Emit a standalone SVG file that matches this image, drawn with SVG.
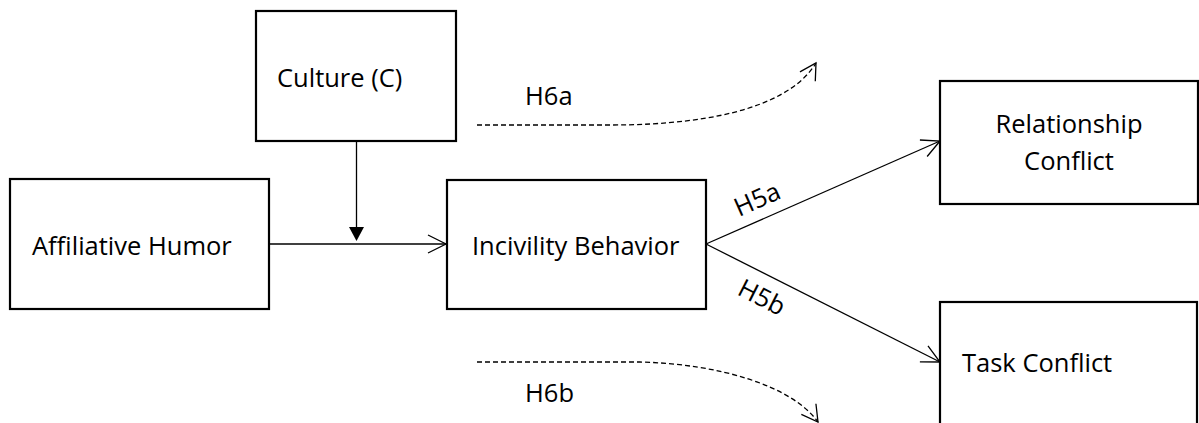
<svg xmlns="http://www.w3.org/2000/svg" width="1199" height="423" viewBox="0 0 1199 423">
<style>
.box{fill:#fff;stroke:#000;stroke-width:2.2}
.t{font-family:"Open Sans","Noto Sans","DejaVu Sans",sans-serif;font-size:25.5px;fill:#000}
.ln{fill:none;stroke:#000;stroke-width:1.3}
.dash{fill:none;stroke:#000;stroke-width:1.3;stroke-dasharray:5,3}
</style>
<defs>
<marker id="open" viewBox="-20 -11 22 22" refX="0" refY="0" markerWidth="22" markerHeight="22" markerUnits="userSpaceOnUse" orient="auto">
<path d="M-18,-9 L0,0 L-18,9" fill="none" stroke="#000" stroke-width="1.3"/>
</marker>
<marker id="open2" viewBox="-20 -11 22 22" refX="0" refY="0" markerWidth="22" markerHeight="22" markerUnits="userSpaceOnUse" orient="auto">
<path d="M-16,-9 L0,0 L-16,9" fill="none" stroke="#000" stroke-width="1.3"/>
</marker>
</defs>
<rect width="1199" height="423" fill="#fff"/>
<g id="connectors">
<path class="ln" d="M356.5,141 L356.5,227"/>
<path d="M349,227 L364,227 L356.5,241 Z" fill="#000"/>
<path class="ln" d="M269,244 L446,244" marker-end="url(#open)"/>
<path class="ln" d="M706,244 L940,141" marker-end="url(#open)"/>
<path class="ln" d="M706,244 L940,362" marker-end="url(#open)"/>
<path class="dash" d="M477,125 L610,125 C725,125 792,102 816,63" marker-end="url(#open2)"/>
<path class="dash" d="M477,362 L640,362 C720,364 792,386 818,422" marker-end="url(#open2)"/>
<text class="t" x="525" y="105">H6a</text>
<text class="t" x="525" y="402">H6b</text>
<text class="t" transform="translate(739,217) rotate(-24)">H5a</text>
<text class="t" transform="translate(736,294) rotate(27)">H5b</text>
</g>
<g id="culture">
<rect class="box" x="256" y="11" width="200" height="130"/>
<text class="t" x="277" y="87">Culture (C)</text>
</g>
<g id="affiliative-humor">
<rect class="box" x="10" y="179" width="259" height="130"/>
<text class="t" x="32" y="255">Affiliative Humor</text>
</g>
<g id="incivility-behavior">
<rect class="box" x="447" y="180" width="259" height="129"/>
<text class="t" x="472" y="255">Incivility Behavior</text>
</g>
<g id="relationship-conflict">
<rect class="box" x="940" y="81" width="258" height="123"/>
<text class="t" x="1069" y="133" text-anchor="middle">Relationship</text>
<text class="t" x="1069" y="170" text-anchor="middle">Conflict</text>
</g>
<g id="task-conflict">
<rect class="box" x="940" y="302" width="257" height="200"/>
<text class="t" x="962" y="372">Task Conflict</text>
</g>
</svg>
